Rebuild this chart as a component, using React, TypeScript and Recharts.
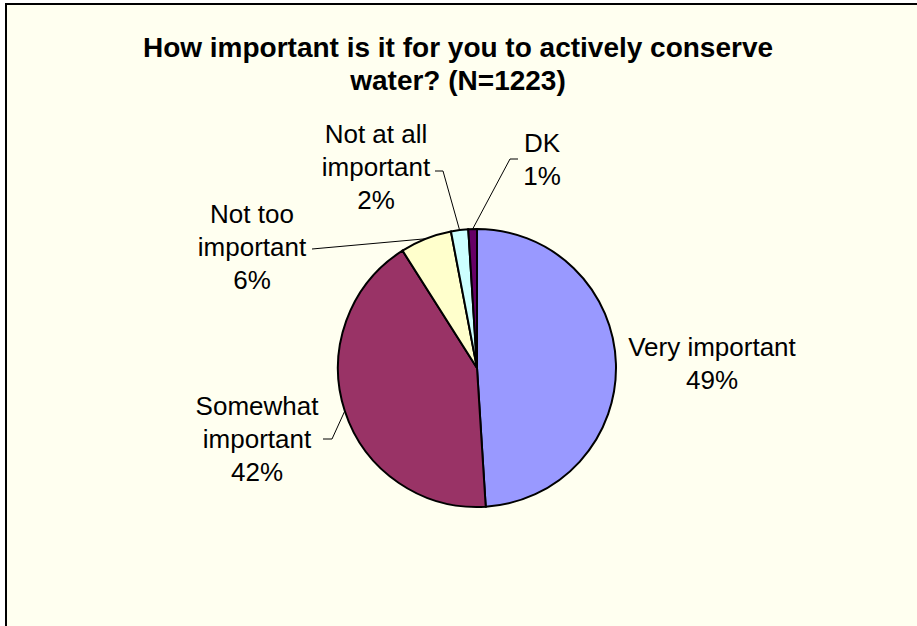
import { Cell, Pie, PieChart } from "recharts";

const categories = ["Very important", "Somewhat important", "Not too important", "Not at all important", "DK"];
const values = [49, 42, 6, 2, 1];
const labelLines = [["Very important"], ["Somewhat", "important"], ["Not too", "important"], ["Not at all", "important"], ["DK"]];
const colors = ["#9999FF", "#993366", "#FFFFCC", "#CCFFFF", "#660066"];
const titleLines = ["How important is it for you to actively conserve", "water? (N=1223)"];

const pieData = categories.map((name, i) => ({ name, value: values[i] }));

// where each label sits (first baseline) and how its leader line bends
const labelLayout = [
    { x: 712, y: 356, end: null, elbow: null },
    { x: 257, y: 415, end: [323, 439], elbow: [332, 439] },
    { x: 252, y: 223, end: [312, 249], elbow: null },
    { x: 376, y: 143, end: [435, 171], elbow: [443, 171] },
    { x: 542, y: 152, end: [518, 159], elbow: [510, 159] },
];

const RADIAN = Math.PI / 180;
const FONT = "'Liberation Sans', Arial, sans-serif";

const renderLabel = (props: any) => {
    const { cx, cy, midAngle, outerRadius, index, value } = props;
    const pos = labelLayout[index];
    const px = cx + outerRadius * Math.cos(-midAngle * RADIAN);
    const py = cy + outerRadius * Math.sin(-midAngle * RADIAN);
    const lines = [...labelLines[index], `${value}%`];
    let points = "";
    if (pos.end) {
        const pts = [pos.end, pos.elbow, [px, py]].filter(Boolean) as number[][];
        points = pts.map((p) => p.join(",")).join(" ");
    }
    return (
        <g key={`label-${index}`}>
            {points && <polyline points={points} fill="none" stroke="#000" strokeWidth={1} />}
            <text x={pos.x} y={pos.y} textAnchor="middle" fontFamily={FONT} fontSize={26} fill="#000">
                {lines.map((line, i) => (
                    <tspan key={i} x={pos.x} dy={i === 0 ? 0 : 33}>
                        {line}
                    </tspan>
                ))}
            </text>
        </g>
    );
};

export default function App() {
    return (
        <div style={{ position: "absolute", left: 0, top: 0, width: 917, height: 626, overflow: "hidden", background: "#fff" }}>
            <div
                style={{
                    position: "absolute",
                    left: 5,
                    top: 3,
                    width: 1000,
                    height: 1000,
                    borderTop: "2px solid #000",
                    borderLeft: "2px solid #000",
                    background: "#FFFFF0",
                }}
            />
            <div style={{ position: "absolute", left: 0, top: 0 }}>
                <PieChart width={917} height={626} margin={{ top: 0, right: 0, bottom: 0, left: 0 }}>
                    <text x={458} textAnchor="middle" fontFamily={FONT} fontWeight="bold" fontSize={28} fill="#000">
                        {titleLines.map((line, i) => (
                            <tspan key={i} x={458} y={57 + i * 33}>
                                {line}
                            </tspan>
                        ))}
                    </text>
                    <Pie
                        data={pieData}
                        dataKey="value"
                        nameKey="name"
                        cx={477}
                        cy={368}
                        outerRadius={139}
                        startAngle={90}
                        endAngle={-270}
                        stroke="#000"
                        strokeWidth={2}
                        label={renderLabel}
                        labelLine={false}
                        isAnimationActive={false}
                    >
                        {pieData.map((d, i) => (
                            <Cell key={d.name} fill={colors[i]} />
                        ))}
                    </Pie>
                </PieChart>
            </div>
        </div>
    );
}
